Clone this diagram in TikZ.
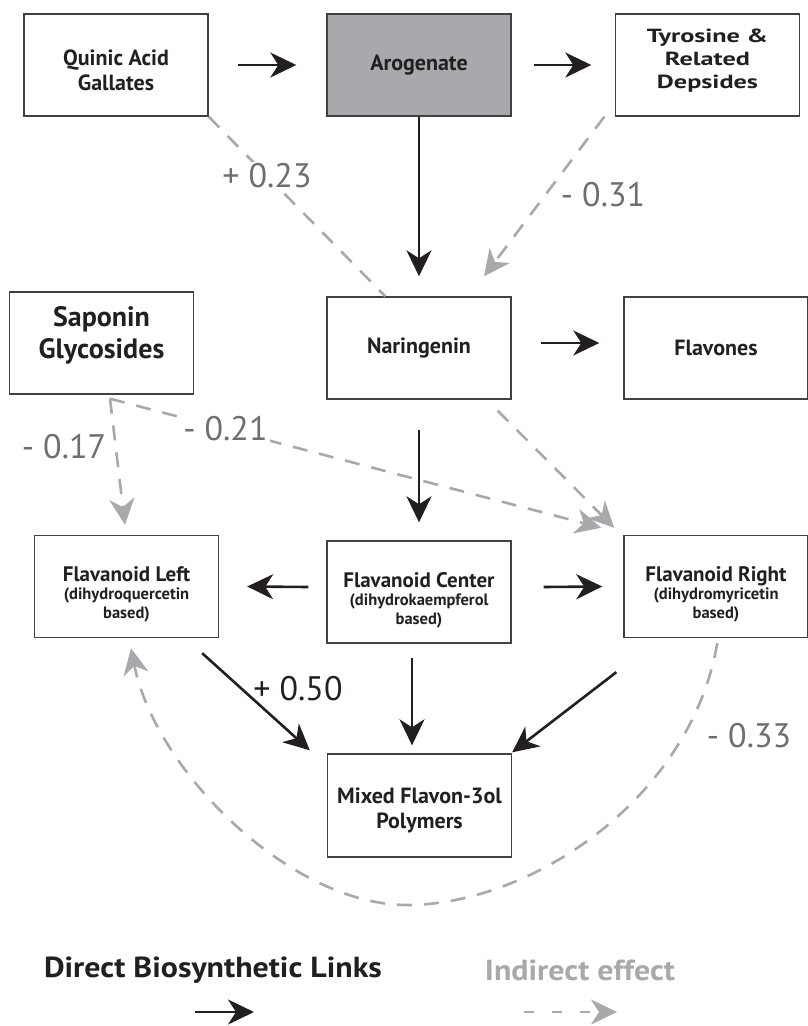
\documentclass[tikz,border=0pt]{standalone}
\usepackage{fontspec}
\setmainfont{PT Sans}
\newfontfamily\cb{PT Sans}
\newfontfamily\wb[FakeStretch=1.38]{PT Sans}
\newfontfamily\lb[FakeStretch=1.1]{PT Sans}
\usetikzlibrary{arrows.meta,calc}
\definecolor{ink}{HTML}{231F20}
\definecolor{boxc}{HTML}{414042}
\definecolor{lgray}{HTML}{A7A9AC}
\definecolor{dgray}{HTML}{6D6E71}
\definecolor{fillg}{HTML}{A7A9AC}
\newcommand\subtxt{\fontsize{16.5}{17.5}\selectfont}
\newcommand\maintxt{\fontsize{21}{24}\selectfont}
\newcommand\upx[1]{\rule{0pt}{#1}}
\newcommand\dnx[1]{\rule[-#1]{0pt}{0pt}}
\begin{document}
\begin{tikzpicture}[x=1pt,y=-1pt,
 box/.style={draw=boxc, line width=1.4pt, minimum width=184pt, minimum height=102pt, inner sep=0pt, align=center, text=ink, font=\cb\bfseries\fontsize{22}{25}\selectfont},
 tip/.style={-{Stealth[length=26pt,width=25pt,inset=8pt]}},
 direct/.style={draw=ink, line width=2.6pt, tip},
 indline/.style={draw=lgray, line width=2.6pt, dash pattern=on 15pt off 12pt},
 indirect/.style={indline, tip},
 coef/.style={text=dgray, font=\fontsize{34}{40}\selectfont, inner sep=2pt},
 legtxt/.style={font=\lb\bfseries\fontsize{29}{34}\selectfont}
]
\useasboundingbox (0,0) rectangle (807,1026);
% boxes
\node[box] (q) at (116,65) {\upx{26pt}Quinic Acid\\Gallates};
\node[box, fill=fillg] (a) at (419,65) {Arogenate};
\node[box, font=\wb\bfseries\fontsize{19}{23}\selectfont] (t) at (707.5,65) {Tyrosine \&\\Related\\Depsides\dnx{13pt}};
\node[box, font=\cb\bfseries\fontsize{28}{32}\selectfont] (s) at (101.5,343) {Saponin\\Glycosides\dnx{21pt}};
\node[box] (n) at (419,348) {Naringenin};
\node[box] (f) at (716,348) {Flavones};
\node[box] (l) at (126.5,586.5) {\maintxt\upx{31pt}Flavanoid Left\\[-7pt]\subtxt (dihydroquercetin\\[-6pt]\subtxt based)};
\node[box] (c) at (419,592) {\maintxt\upx{31pt}Flavanoid Center\\[-7pt]\subtxt (dihydrokaempferol\\[-6pt]\subtxt based)};
\node[box] (r) at (716,586.5) {\maintxt\upx{31pt}Flavanoid Right\\[-7pt]\subtxt (dihydromyricetin\\[-6pt]\subtxt based)};
\node[box, minimum height=103pt] (m) at (419.5,805.5) {\upx{26pt}Mixed Flavon-3ol\\Polymers};
% indirect effects
\draw[indline] (q.south east) -- node[pos=0.33, coef, fill=white] (l23) {+ 0.23} ([xshift=59pt]n.north west);
\draw[indirect] ([xshift=-10.5pt]t.south west) -- ([xshift=65pt,yshift=20pt]n.north);
\node[coef] (l31) at (603,195) {- 0.31};
\coordinate (sd) at ([xshift=8.5pt,yshift=-4pt]s.south);
\draw[indirect] (sd) -- ([xshift=-1.5pt,yshift=10pt]l.north);
\node[coef] (l17) at (64,447) {- 0.17};
\draw[indirect] (sd) -- node[pos=0.235, coef, fill=white] (l21) {- 0.21} ([xshift=-22pt,yshift=7pt]r.north west);
\draw[indirect] ([xshift=-14pt,yshift=-11pt]n.south east) -- ([xshift=-9pt,yshift=7pt]r.north west);
\draw[indirect] ([xshift=94pt,yshift=-5pt]r.south west) .. controls (690,800) and (530,905) .. (407,905)
   .. controls (290,905) and (155,770) .. ([xshift=4.5pt,yshift=-10pt]l.south);
\node[coef] (l33) at (749,736) {- 0.33};
% direct links
\draw[direct] ([xshift=29pt]q.east) -- ([xshift=-30pt]a.west);
\draw[direct] ([xshift=22pt]a.east) -- ([xshift=-23.5pt]t.west);
\draw[direct] (a.south) -- ([yshift=20pt]n.north);
\draw[direct] ([xshift=29pt,yshift=5pt]n.east) -- ([xshift=-24pt,yshift=5pt]f.west);
\draw[direct] ([yshift=-30pt]n.south) -- ([yshift=18pt]c.north);
\draw[direct] ([xshift=-18pt,yshift=5pt]c.west) -- ([xshift=28pt]l.east);
\draw[direct] ([xshift=32pt,yshift=5pt]c.east) -- ([xshift=-21pt]r.west);
\draw[direct] ([xshift=-17pt,yshift=-15pt]l.south east) -- ([xshift=-17pt,yshift=3pt]m.north west);
\draw[direct] ([xshift=-7pt,yshift=-14pt]c.south) -- ([xshift=-7.5pt,yshift=8pt]m.north);
\draw[direct] ([xshift=-7pt,yshift=-34pt]r.south west) -- ([yshift=1pt]m.north east);
\node[coef, text=ink] (l50) at (298,689) {+ 0.50};
% legend
\node[legtxt, text=ink] (ld) at (213,970) {Direct Biosynthetic Links};
\node[legtxt, text=lgray] (li) at (580,970) {Indirect effect};
\coordinate (d1) at (195,1012);
\coordinate (d2) at (254,1012);
\coordinate (i1) at (524,1012);
\coordinate (i2) at (617,1012);
\draw[direct] (d1) -- (d2);
\draw[indirect, dash pattern=on 10pt off 18pt] (i1) -- (i2);
\end{tikzpicture}
\end{document}
